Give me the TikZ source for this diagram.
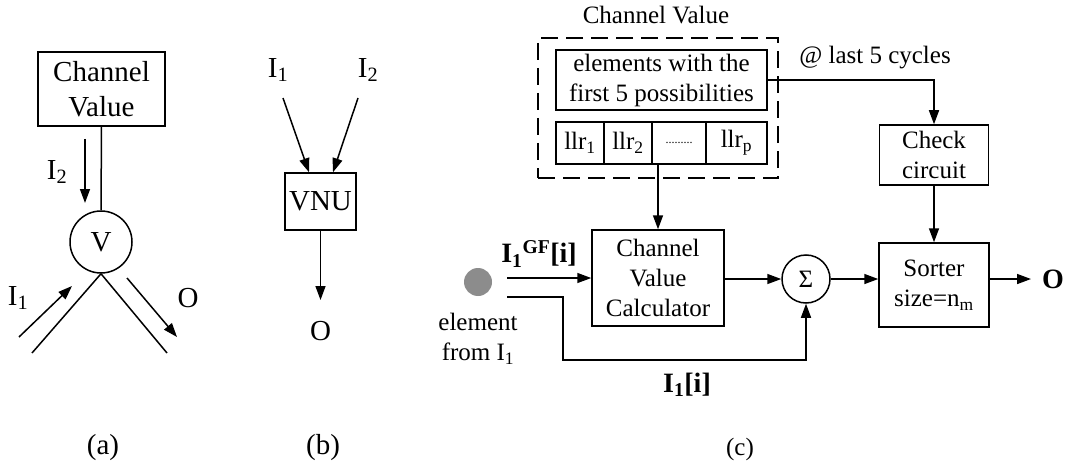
\documentclass[tikz,border=0pt]{standalone}
\usepackage{fontspec}
\setmainfont{Liberation Serif}
\usetikzlibrary{arrows.meta,positioning}
\begin{document}
\begin{tikzpicture}[x=1pt,y=-1pt,
  line width=1.5pt,
  arr/.style={-{Triangle[length=14pt,width=10pt]}},
  blk/.style={draw,rectangle,inner sep=0pt,align=center},
  txa/.style={font=\fontsize{29}{35}\selectfont},
  txc/.style={font=\fontsize{25}{30}\selectfont},
  txb/.style={font=\fontsize{28}{32}\selectfont\bfseries},
  lbl/.style={inner sep=0pt}]
\useasboundingbox (0,0) rectangle (1073,468);

% ---------- (a) variable node with channel value ----------
\node[blk,txa,minimum width=127pt,minimum height=74pt] (cva) at (101.5,89) {Channel\\Value};
\node[draw,circle,txa,minimum size=62pt,inner sep=0pt] (v) at (101,242) {V};
\draw (cva.south) -- (v.north);
\coordinate (vl) at (32,353);
\coordinate (vr) at (167,353);
\draw (v.south) -- (vl);
\draw (v.south) -- (vr);
\coordinate (i2s) at (85,139);
\coordinate (i2e) at (85,203);
\draw[arr] (i2s) -- (i2e);
\node[lbl,txa] (i2a) at (57,172) {I\textsubscript{2}};
\coordinate (i1s) at (19,337);
\coordinate (i1e) at (72,286);
\draw[arr] (i1s) -- (i1e);
\node[lbl,txa] (i1a) at (18,298) {I\textsubscript{1}};
\coordinate (os) at (127,278);
\coordinate (oe) at (177,337);
\draw[arr] (os) -- (oe);
\node[lbl,txa] (oa) at (188,298) {O};
\node[lbl,txa] (capa) at (103,448) {(a)};

% ---------- (b) VNU ----------
\node[blk,txa,minimum width=71pt,minimum height=57pt] (vnu) at (320.5,201.5) {VNU};
\node[lbl,txa] (i1b) at (278,70) {I\textsubscript{1}};
\node[lbl,txa] (i2b) at (368,70) {I\textsubscript{2}};
\coordinate (b1s) at (283,98);
\coordinate (b2s) at (358,98);
\draw[arr] (b1s) -- (vnu.north -| 309,0);
\draw[arr] (b2s) -- (vnu.north -| 333,0);
\coordinate (bo) at (320.5,300);
\draw[arr] (vnu.south) -- (bo);
\node[lbl,txa] (ob) at (320.5,331) {O};
\node[lbl,txa] (capb) at (323,448) {(b)};

% ---------- (c) check node unit ----------
\node[draw,dash pattern=on 17pt off 8pt,minimum width=240pt,minimum height=140pt,inner sep=0pt] (cvbox) at (658,108) {};
\node[lbl,txc] (cvtitle) at (656,15) {Channel Value};
\node[blk,txc,minimum width=211pt,minimum height=60pt] (elem) at (661.5,80) {elements with the\\first 5 possibilities};
\node[blk,txc,minimum width=48pt,minimum height=42pt] (llr1) at (580,143) {llr\textsubscript{1}};
\node[blk,txc,minimum width=48pt,minimum height=42pt] (llr2) at (628,143) {llr\textsubscript{2}};
\node[blk,minimum width=54pt,minimum height=42pt] (llrd) at (679,143) {\fontsize{12}{14}\selectfont .........};
\node[blk,txc,minimum width=61pt,minimum height=42pt] (llrp) at (736.5,143) {llr\textsubscript{p}};

\node[blk,txc,minimum width=132pt,minimum height=96pt] (calc) at (658,278) {Channel\\Value\\Calculator};
\draw[arr] (calc.north |- llrd.south) -- (calc.north);

\node[circle,fill=black!45,minimum size=28pt,inner sep=0pt] (dot) at (478,282) {};
\node[lbl,txc,align=center] (elab) at (478,339) {element\\from I\textsubscript{1}};
\coordinate (gfs) at (507,278);
\draw[arr] (gfs) -- (calc.west);
\node[lbl,txb] (gflab) at (539,254) {I\textsubscript{1}\textsuperscript{GF}[i]};

\node[draw,circle,txc,minimum size=48pt,inner sep=0pt] (sig) at (806,279) {Σ};
\draw[arr] (calc.east |- sig.west) -- (sig.west);

\coordinate (is) at (507,297);
\draw[arr] (is) -- (563,297) -- (563,360) -| (sig.south);
\node[lbl,txb] (ilab) at (687,385) {I\textsubscript{1}[i]};

\node[blk,txc,minimum width=110pt,minimum height=84pt] (sort) at (934,285) {Sorter\\size=n\textsubscript{m}};
\node[blk,txc,minimum width=109pt,minimum height=60pt] (chk) at (934,155) {Check\\circuit};
\draw[arr] (sig.east) -- (sig.east -| sort.west);
\draw[arr] (chk.south) -- (sort.north);
\draw[arr] (elem.east) -| (chk.north);
\node[lbl,txc] (at5) at (875,58) {@ last 5 cycles};

\coordinate (oc) at (1031,279);
\draw[arr] (sig.east -| sort.east) -- (oc);
\node[lbl,txb] (ocl) at (1053,279) {O};
\node[lbl,txc] (capc) at (740,449) {(c)};
\end{tikzpicture}
\end{document}
